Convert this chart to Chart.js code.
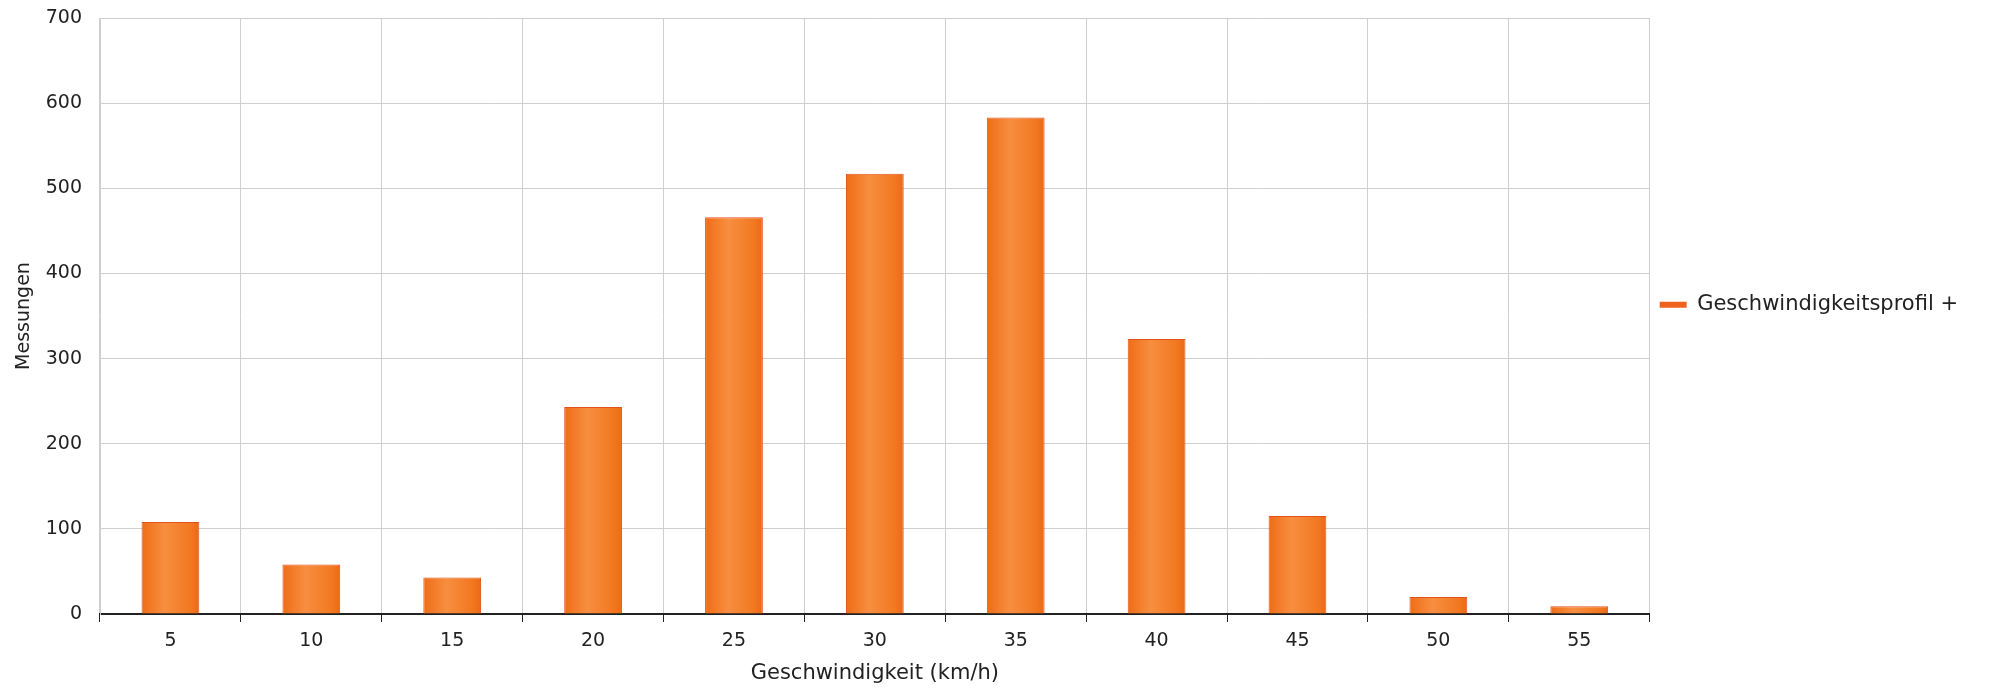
<!DOCTYPE html>
<html>
<head>
<meta charset="utf-8">
<script src="https://cdn.jsdelivr.net/npm/chart.js@4.4.1/dist/chart.umd.min.js"></script>
<style>
  html, body { margin: 0; padding: 0; background: #fff; }
  #wrap { width: 1990px; height: 688px; position: relative; }
</style>
</head>
<body>
<div id="wrap"><canvas id="myChart"></canvas></div>
<script>
// speed classes (km/h) and number of measurements
let labels = ['5', '10', '15', '20', '25', '30', '35', '40', '45', '50', '55'];
let measurements = [108, 58, 43, 243, 466, 517, 583, 323, 115, 20, 9];
let seriesName = 'Geschwindigkeitsprofil +';
let yTicks = [0, 100, 200, 300, 400, 500, 600, 700];

const font = 'DejaVu Sans';
const textColor = '#222222';
const gridColor = '#cfcfcf';
const barPct = 0.41;

// horizontal gradient for each bar, gives the rounded look of the original
function barFill(c) {
    const xs = c.chart.scales.x;
    if (!xs || c.dataIndex === undefined) return '#f27a24';
    const cx = xs.getPixelForValue(c.dataIndex);
    const w = xs.width / labels.length * barPct;
    const g = c.chart.ctx.createLinearGradient(cx - w / 2, 0, cx + w / 2, 0);
    g.addColorStop(0, '#ef6c16');
    g.addColorStop(0.4, '#f78e40');
    g.addColorStop(0.85, '#f27820');
    g.addColorStop(1, '#eb6818');
    return g;
}

const ctx = document.getElementById('myChart');
const speedChart = new Chart(ctx, {
    type: 'bar',
    data: {
        labels: labels,
        datasets: [{
            label: seriesName,
            data: measurements,
            backgroundColor: barFill,
            borderColor: '#e4521a',
            borderWidth: 1,
            barPercentage: barPct,
            categoryPercentage: 1
        }]
    },
    options: {
        responsive: true,
        maintainAspectRatio: false,
        devicePixelRatio: 1,
        animation: false,
        layout: {
            padding: { top: 0, right: 22, bottom: 2, left: 13 }
        },
        plugins: {
            tooltip: { enabled: false },
            legend: {
                position: 'right',
                align: 'start',
                // empty title only pushes the single legend item down
                title: {
                    display: true,
                    text: '',
                    font: { size: 1 },
                    padding: { top: 283, bottom: 0 }
                },
                labels: {
                    font: { family: font, size: 21 },
                    color: textColor,
                    boxWidth: 27,
                    boxHeight: 6,
                    padding: 10,
                    generateLabels: () => [{
                        text: seriesName,
                        fillStyle: '#f0601e',
                        strokeStyle: '#f0601e',
                        fontColor: textColor,
                        lineWidth: 0,
                        datasetIndex: 0
                    }]
                }
            }
        },
        scales: {
            x: {
                grid: {
                    color: gridColor,
                    tickColor: '#222',
                    tickLength: 8,
                    offset: true
                },
                border: { color: '#222', width: 2 },
                ticks: {
                    font: { family: font, size: 19 },
                    color: textColor,
                    padding: 8
                },
                title: {
                    display: true,
                    text: 'Geschwindigkeit (km/h)',
                    font: { family: font, size: 21 },
                    color: textColor,
                    padding: { top: 0, bottom: 0 }
                }
            },
            y: {
                min: 0,
                max: 700,
                afterBuildTicks: axis => { axis.ticks = yTicks.map(v => ({ value: v })); },
                // fixed axis width and top margin, so the plot starts where the original does
                afterFit: axis => {
                    axis.width = 87;
                    axis.paddingTop = 18;
                },
                grid: {
                    color: gridColor,
                    drawTicks: false
                },
                border: { color: gridColor },
                ticks: {
                    font: { family: font, size: 19 },
                    color: textColor,
                    padding: 18
                },
                title: {
                    display: true,
                    text: 'Messungen',
                    font: { family: font, size: 19 },
                    color: textColor,
                    padding: { top: 0, bottom: 0 }
                }
            }
        }
    }
});
</script>
</body>
</html>
